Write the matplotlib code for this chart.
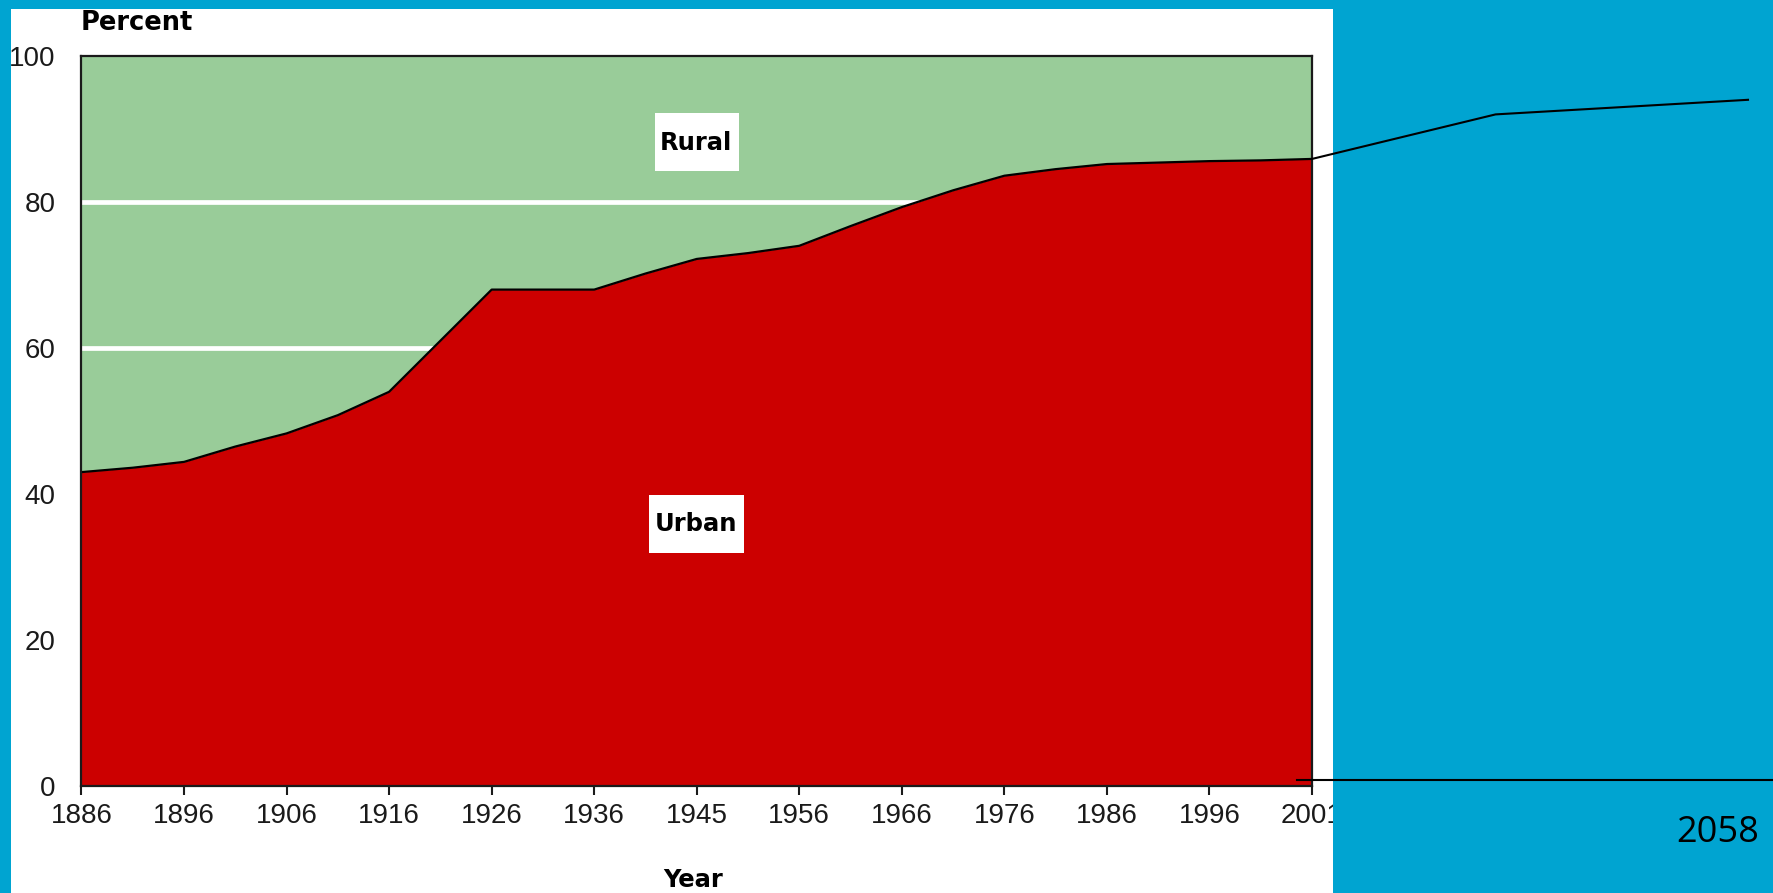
import numpy as np
import matplotlib
matplotlib.use("Agg")
import matplotlib.pyplot as plt
from matplotlib.patches import Rectangle

# ---------------- data ----------------
tick_labels = ['1886', '1896', '1906', '1916', '1926', '1936', '1945',
               '1956', '1966', '1976', '1986', '1996', '2001']
# urban share (%) read at every half category step
urban = [43.0, 43.6, 44.4, 46.5, 48.3, 50.8, 54.0, 61.0, 68.0, 68.0,
         68.0, 70.2, 72.2, 73.0, 74.0, 76.7, 79.3, 81.6, 83.6, 84.5,
         85.2, 85.4, 85.6, 85.7, 85.9]
y_ticks = [0, 20, 40, 60, 80, 100]
proj_years = [2001, 2025, 2058]
proj_urban = [85.9, 92.0, 94.0]
proj_label = '2058'

# ---------------- style ----------------
BLUE = '#00A4D1'
GREEN = '#99CC99'
RED = '#CC0000'
W, H = 1774, 893


def fx(px):
    return px / W


def fy(py):
    return 1 - py / H


fig = plt.figure(figsize=(W / 100, H / 100), dpi=100, facecolor=BLUE)

# white panel behind the chart
fig.patches.append(Rectangle((fx(11), 0), fx(1333) - fx(11), fy(9),
                             transform=fig.transFigure, facecolor='white',
                             edgecolor='none', zorder=-1))

L, R, T, B = 81.5, 1312, 56, 786
ax = fig.add_axes([fx(L), fy(B), (R - L) / W, (B - T) / H])
ax.set_facecolor(GREEN)
pos = np.arange(len(urban)) / 2.0
rural_top = [100] * len(urban)
ax.fill_between(pos, urban, rural_top, color=GREEN, lw=0, zorder=1)
for yv in y_ticks[1:-1]:
    ax.axhline(yv, color='white', lw=3.4, zorder=1.5)
ax.fill_between(pos, 0, urban, color=RED, lw=0, zorder=2)
ax.plot(pos, urban, color='black', lw=1.6, zorder=3)

ax.set_xlim(0, len(tick_labels) - 1)
ax.set_ylim(0, 100)
ax.set_xticks(np.arange(len(tick_labels)))
ax.set_xticklabels(tick_labels, fontfamily='Liberation Sans', fontsize=20)
ax.set_yticks(y_ticks)
ax.set_yticklabels([str(v) for v in y_ticks], fontfamily='Liberation Sans', fontsize=20)
ax.tick_params(axis='x', length=6.5, width=1.5, direction='out', pad=6, colors='#1a1a1a')
ax.tick_params(axis='y', length=0, pad=18.5, colors='#1a1a1a')
for sp in ax.spines.values():
    sp.set_color('#1a1a1a')
    sp.set_linewidth(1.6)
    sp.set_zorder(4)

# text labels
bold = dict(family='DejaVu Sans', fontweight='bold', color='black')
fig.text(fx(81), fy(30), 'Percent', ha='left', va='baseline', fontsize=18.5, **bold)
fig.text(fx(693), fy(887), 'Year', ha='center', va='baseline', fontsize=17.5, **bold)

fig.add_artist(Rectangle((fx(655), fy(171)), fx(739) - fx(655), fy(112.7) - fy(171),
                         transform=fig.transFigure, facecolor='white',
                         edgecolor='none', zorder=0.5))
fig.text(fx(696), fy(150), 'Rural', ha='center', va='baseline', fontsize=17.5,
         zorder=0.6, **bold)
fig.add_artist(Rectangle((fx(649), fy(553)), fx(744) - fx(649), fy(495) - fy(553),
                         transform=fig.transFigure, facecolor='white',
                         edgecolor='none', zorder=0.5))
fig.text(fx(696), fy(531), 'Urban', ha='center', va='baseline', fontsize=17.5,
         zorder=0.6, **bold)

# blue border strips drawn over the panel edges
for (x0, y0, x1, y1) in [(0, 0, 11, H), (0, 0, W, 9), (1333, 0, W, H)]:
    fig.add_artist(Rectangle((fx(x0), fy(y1)), fx(x1) - fx(x0), fy(y0) - fy(y1),
                             transform=fig.transFigure, facecolor=BLUE,
                             edgecolor='none', zorder=1))

# projection overlay on the right
ax2 = fig.add_axes([fx(R), fy(B), (W - R) / W, (B - T) / H], zorder=2)
ax2.set_facecolor('none')
ax2.axis('off')
ppy = (1748 - R) / (proj_years[-1] - proj_years[0])
ax2.set_xlim(proj_years[0], proj_years[0] + (W - R) / ppy)
ax2.set_ylim(0, 100)
ax2.plot(proj_years, proj_urban, color='black', lw=1.5, clip_on=False)
ax2.axhline(0.8, xmin=-15 / (W - R), xmax=1, color='black', lw=1.5, clip_on=False)
fig.text(fx(1718), fy(842), proj_label, ha='center', va='baseline',
         fontsize=26, family='Open Sans', color='black', zorder=3)

fig.savefig('out.png', dpi=100, facecolor=BLUE)
